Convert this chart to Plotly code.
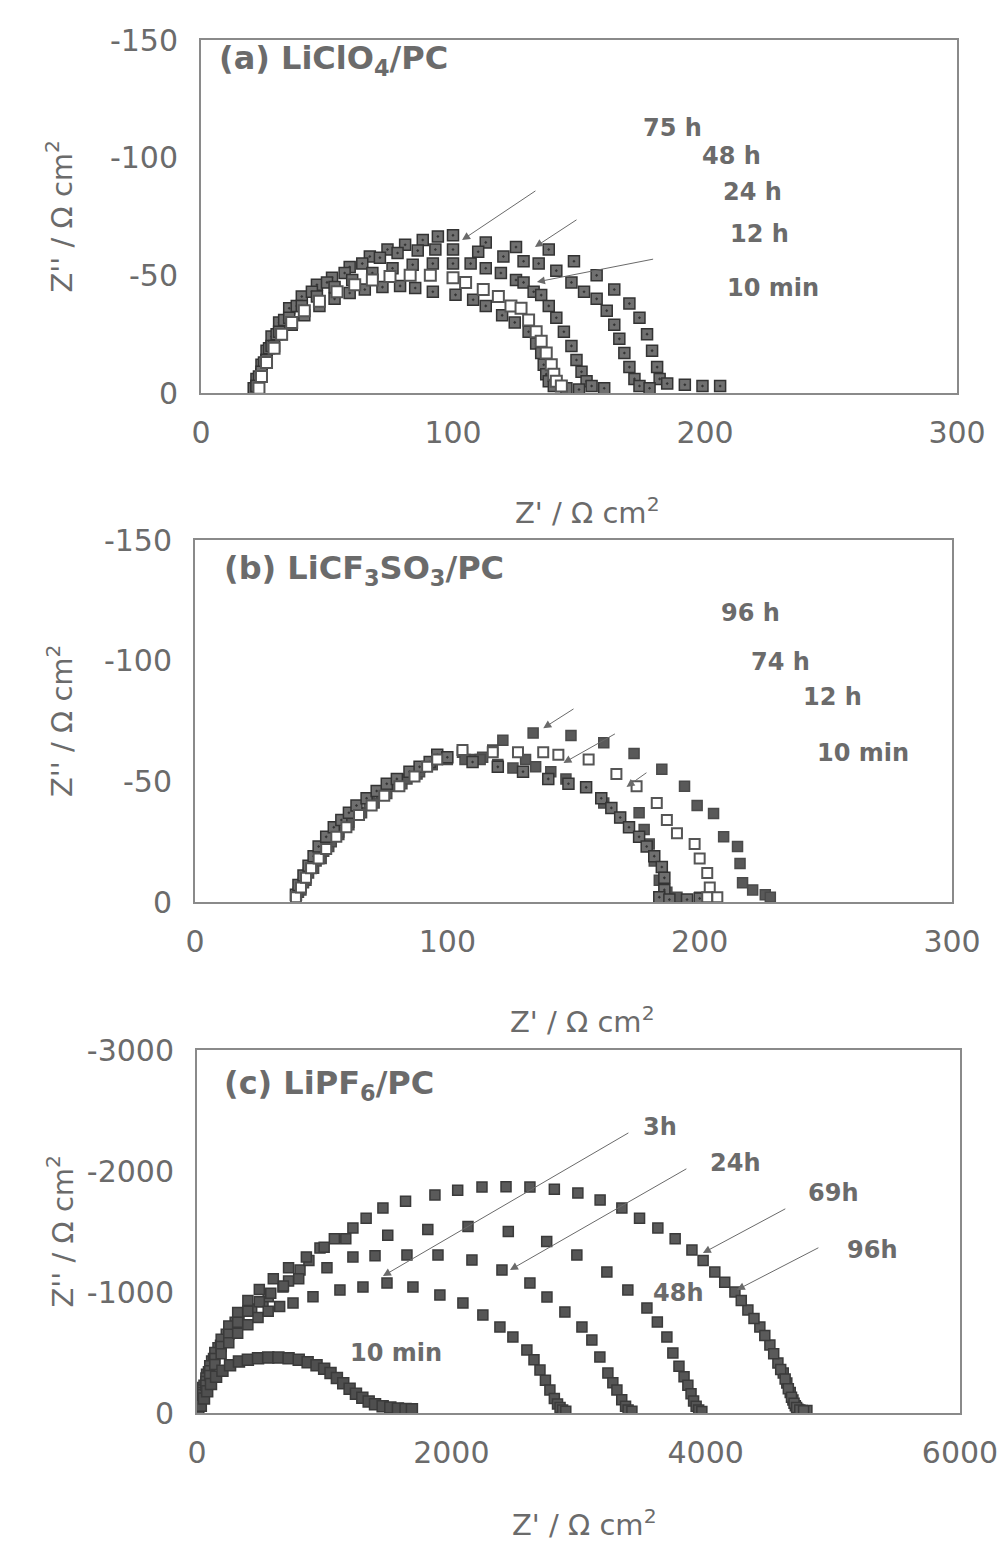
import plotly.graph_objects as go

W, H = 1004, 1547

# ---------------- Panel (a) LiClO4/PC ----------------
a_10min_x = [22, 24, 26, 29, 32, 36, 41, 47, 53, 59, 65, 72, 79, 85, 92, 101, 108, 113, 119.5, 124.5, 130, 133, 135, 136, 137, 138, 140, 145, 150]
a_10min_y = [-3, -9, -14, -20, -25, -29, -33, -37, -40, -42.5, -44, -45, -45.5, -44.6, -43, -41.7, -39.6, -37, -33, -30, -26, -21, -17, -12, -8, -5, -3, -2, -1.5]
a_12h_x = [23, 24, 26, 29, 32, 36, 41, 47, 54, 61, 68, 75, 83, 91, 100, 105, 112, 118, 123, 127, 130, 133, 135, 137, 139, 140, 141, 143]
a_12h_y = [-2, -7, -13, -19, -25, -30, -35, -39, -43, -46, -48, -49.5, -50, -50, -49, -47, -44, -41, -37, -36, -31, -26, -22, -17, -12, -8, -5, -3]
a_24h_x = [22, 24, 26, 28, 31, 35, 40, 46, 53, 60, 68, 76, 84, 92, 100, 107, 113, 119, 125, 128, 132, 135, 138, 141, 144, 147, 149, 151, 153, 155, 160]
a_24h_y = [-3, -8, -14, -20, -26, -32, -37, -41, -45, -48, -51, -53, -54.5, -55, -55, -55, -53, -51, -48, -47, -43, -41.6, -37, -32, -26, -20, -14, -9, -5, -3, -2]
a_48h_x = [21, 23, 25, 27, 30, 33, 38, 44, 50, 57, 64, 71, 78, 86, 93, 100, 110, 120, 128, 134, 141, 147, 152, 157, 161, 164, 166, 168, 170, 172, 174, 178]
a_48h_y = [-2, -7, -13, -19, -25, -31, -37, -43, -47, -51, -55, -57.5, -59.5, -60.5, -61, -61, -60, -58, -56, -55, -52, -47, -43, -40, -35, -29, -23, -17, -11, -6, -3, -2]
a_75h_x = [21, 22, 24, 26, 28, 31, 35, 40, 46, 52, 59, 67, 74, 81, 88, 94, 100, 113, 125, 138, 148, 157, 164, 170, 174, 177, 179, 181, 182, 185, 192, 199, 206]
a_75h_y = [-2, -6, -12, -18, -24, -30, -36, -41, -46, -49, -53.5, -58, -61, -63, -65, -66.5, -67, -64, -62, -61, -56, -50, -44, -38, -32, -25, -18, -11, -6, -4, -3.5, -3, -3]

# ---------------- Panel (b) LiCF3SO3/PC ----------------
b_10min_x = [40, 41, 43, 45, 47, 49, 52, 55, 58, 61, 64, 68, 72, 76, 80, 85, 89, 93, 96, 100, 110, 120, 130, 140, 148, 155, 161, 165, 168.5, 172, 176, 179, 182, 185, 186, 186, 184, 188, 195, 200]
b_10min_y = [-3, -7, -11, -15, -19, -23, -27, -31, -34, -37, -40, -43, -46, -49, -51, -54, -56, -58, -61, -60, -58, -56, -54, -51, -49, -47.5, -43, -39, -35, -31, -27, -23, -19, -14.5, -10, -5, -2, -1, -1, -1.5]
b_12h_x = [40, 42, 44, 46, 49, 52, 56, 60, 65, 70, 75, 81, 87, 92, 96, 106, 118, 128, 138, 144, 156, 167, 175, 183, 187, 191, 198, 200, 203, 204, 203, 207]
b_12h_y = [-2, -6, -10, -14, -18, -22, -27, -31, -36, -40, -44, -48, -52, -56, -59, -63, -62, -62, -62, -61, -59, -53, -48, -41, -34, -28.5, -24, -18, -12, -6, -2, -2]
b_74h_x = [41, 43, 45, 48, 51, 54, 57, 61, 65, 69, 74, 79, 84, 89, 94, 100, 107, 113, 120, 126, 131, 135, 141, 147, 155, 162, 168.5, 176, 178, 180, 182, 184, 187, 191, 200]
b_74h_y = [-4, -8, -12, -17, -21, -25, -29, -33, -37, -41, -45, -48, -51, -54, -57, -59, -59, -59, -57, -55.5, -59, -56, -54, -51, -47.5, -41, -35, -37, -30, -24, -17, -9, -4, -2, -2]
b_96h_x = [42, 44, 47, 50, 53, 57, 61, 66, 71, 76, 82, 88, 94, 99, 106, 110, 114, 118, 122, 134, 149, 162, 174, 185, 194, 199, 205.5, 209.5, 215, 216, 217, 221, 226, 228]
b_96h_y = [-5, -9, -14, -18, -23, -28, -32, -37, -41, -45, -49, -53, -57, -60, -62, -59, -60, -63, -67, -70, -69, -66, -61.5, -55, -48, -40, -36.7, -27, -23, -16, -8, -5, -3, -2]

# ---------------- Panel (c) LiPF6/PC ----------------
c_10min_x = [10, 30, 55, 80, 110, 150, 200, 260, 330, 400, 480, 560, 640, 720, 800, 870, 940, 1000, 1050, 1100, 1150, 1200, 1250, 1300, 1350, 1400, 1460, 1520, 1580, 1640, 1690]
c_10min_y = [-10, -60, -120, -180, -240, -300, -350, -395, -425, -440, -452, -458, -458, -452, -440, -420, -395, -365, -330, -290, -245, -200, -160, -125, -95, -72, -55, -45, -38, -33, -30]
c_3h_x = [10, 25, 45, 70, 100, 140, 190, 250, 320, 400, 480, 560, 650, 755, 912, 1124, 1305, 1494, 1698, 1910, 2091, 2248, 2382, 2484, 2594, 2650, 2697, 2740, 2775, 2810, 2835, 2855, 2875, 2900]
c_3h_y = [-20, -80, -150, -230, -310, -400, -490, -580, -660, -730, -790, -840, -880, -909, -960, -1017, -1041, -1074, -1041, -975, -909, -810, -711, -628, -521, -440, -355, -270, -190, -120, -75, -45, -25, -15]
c_24h_x = [10, 25, 45, 70, 100, 140, 190, 250, 320, 400, 490, 580, 680, 800, 1022, 1226, 1400, 1651, 1895, 2162, 2398, 2618, 2752, 2893, 3027, 3105, 3168, 3231, 3270, 3302, 3340, 3370, 3390, 3420]
c_24h_y = [-25, -90, -170, -260, -350, -450, -550, -650, -750, -840, -920, -990, -1050, -1110, -1200, -1290, -1300, -1306, -1306, -1264, -1182, -1074, -959, -835, -711, -603, -463, -330, -250, -190, -110, -55, -25, -15]
c_48h_x = [10, 25, 45, 70, 100, 140, 190, 250, 320, 400, 490, 600, 720, 860, 1000, 1170, 1500, 1815, 2131, 2448, 2750, 2987, 3223, 3388, 3538, 3620, 3695, 3742, 3790, 3830, 3860, 3885, 3905, 3925, 3945, 3970]
c_48h_y = [-30, -100, -190, -290, -390, -500, -610, -720, -830, -930, -1020, -1110, -1200, -1290, -1370, -1440, -1470, -1517, -1542, -1500, -1417, -1306, -1165, -1017, -868, -752, -628, -496, -386, -300, -230, -160, -100, -55, -25, -12]
c_69h_x = [10, 30, 55, 90, 130, 185, 250, 330, 430, 560, 720, 880, 1080, 1330, 1640, 2050, 2430, 2810, 3170, 3480, 3760, 3980, 4150, 4280, 4380, 4465, 4535, 4590, 4625, 4650, 4675, 4695, 4715, 4740, 4770]
c_69h_y = [-38, -130, -230, -340, -450, -560, -670, -770, -860, -960, -1090, -1260, -1440, -1610, -1750, -1840, -1870, -1850, -1760, -1610, -1440, -1260, -1080, -930, -780, -640, -490, -360, -280, -200, -130, -80, -45, -25, -18]
c_96h_x = [10, 25, 45, 75, 115, 165, 230, 300, 400, 519, 676, 810, 967, 1226, 1462, 1871, 2241, 2618, 2995, 3341, 3624, 3892, 4072, 4230, 4332, 4426, 4505, 4568, 4610, 4638, 4665, 4686, 4705, 4725, 4760, 4796]
c_96h_y = [-40, -120, -210, -320, -430, -540, -650, -750, -840, -920, -1041, -1182, -1364, -1529, -1694, -1802, -1868, -1868, -1818, -1694, -1529, -1347, -1165, -1000, -851, -711, -562, -413, -330, -248, -170, -107, -60, -30, -20, -20]

# tick labels
a_xticks = [0, 100, 200, 300]
a_yticks = [0, -50, -100, -150]
b_xticks = [0, 100, 200, 300]
b_yticks = [0, -50, -100, -150]
c_xticks = [0, 2000, 4000, 6000]
c_yticks = [0, -1000, -2000, -3000]

# panel boxes in pixels (left, right, top, bottom)
boxes = {
    "a": (201, 957, 40, 393),
    "b": (195, 952, 540, 902),
    "c": (197, 960, 1050, 1413),
}

FONT = "DejaVu Sans"
TXT = "#6b6b6b"
fig = go.Figure()

FILL = "#6a6a6a"
EDGE = "#2e2e2e"


def add(xs, ys, n, name, sym="square", fill=FILL, edge=EDGE, size=11, lw=1.5):
    fig.add_trace(go.Scatter(
        x=xs, y=ys, mode="markers", name=name, showlegend=False,
        xaxis="x" if n == 1 else f"x{n}", yaxis="y" if n == 1 else f"y{n}",
        marker=dict(symbol=sym, size=size, color=fill, line=dict(color=edge, width=lw)),
    ))


# panel a
add(a_75h_x, a_75h_y, 1, "75 h", sym="square-dot", fill="#707070", edge="#333333")
add(a_48h_x, a_48h_y, 1, "48 h", sym="square-dot", fill="#707070", edge="#333333")
add(a_24h_x, a_24h_y, 1, "24 h", sym="square-dot", fill="#707070", edge="#333333")
add(a_10min_x, a_10min_y, 1, "10 min", sym="square-dot", fill="#707070", edge="#333333")
add(a_12h_x, a_12h_y, 1, "12 h", fill="white", edge="#555555", lw=2)

# panel b
add(b_96h_x, b_96h_y, 2, "96 h", fill="#595959", edge="#4a4a4a", size=10)
add(b_74h_x, b_74h_y, 2, "74 h", fill="#595959", edge="#4a4a4a", size=10)
add(b_10min_x, b_10min_y, 2, "10 min", sym="square-dot", fill="#6f6f6f", edge="#333333", size=11)
add(b_12h_x, b_12h_y, 2, "12 h", fill="white", edge="#555555", size=10, lw=2)

# panel c
add(c_96h_x, c_96h_y, 3, "96h", fill="#5a5a5a", edge="#3a3a3a", size=10)
add(c_69h_x, c_69h_y, 3, "69h", fill="#5a5a5a", edge="#3a3a3a", size=10)
add(c_48h_x, c_48h_y, 3, "48h", fill="#555555", edge="#3a3a3a", size=10)
add(c_24h_x, c_24h_y, 3, "24h", fill="#555555", edge="#3a3a3a", size=10)
add(c_3h_x, c_3h_y, 3, "3h", fill="#555555", edge="#3a3a3a", size=10)
add(c_10min_x, c_10min_y, 3, "10 min", fill="#4f4f4f", edge="#3a3a3a", size=11)


def axis(domain, anchor, rng, tickvals, is_x):
    d = dict(
        domain=domain, anchor=anchor, range=rng, automargin=False,
        tickvals=tickvals, ticktext=[str(v) for v in tickvals],
        showgrid=False, zeroline=False, showline=True, mirror=True,
        linecolor="#8a8a8a", linewidth=2, ticks="",
        tickfont=dict(family=FONT, size=30, color=TXT),
    )
    d["ticklabelstandoff"] = 12 if is_x else 15
    return d


layout = dict(
    width=W, height=H, margin=dict(l=0, r=0, t=0, b=0, pad=0, autoexpand=False),
    paper_bgcolor="white", plot_bgcolor="white",
    showlegend=False,
)
specs = [
    ("a", "", a_xticks, a_yticks, [0, 300], [0, -150]),
    ("b", "2", b_xticks, b_yticks, [0, 300], [0, -150]),
    ("c", "3", c_xticks, c_yticks, [0, 6000], [0, -3000]),
]
for key, sfx, xt, yt, xr, yr in specs:
    l, r, t, b = boxes[key]
    layout["xaxis" + sfx] = axis([l / W, r / W], "y" + sfx, xr, xt, True)
    layout["yaxis" + sfx] = axis([1 - b / H, 1 - t / H], "x" + sfx, yr, yt, False)

fig.update_layout(**layout)

ann = []
TITLE_FONT = dict(family=FONT, size=32, color=TXT)
LAB_FONT = dict(family=FONT, size=24, color=TXT)
AX_FONT = dict(family=FONT, size=29, color=TXT)

# panel titles
titles = [
    ("<b>(a) LiClO<sub>4</sub>/PC</b>", 217, 60),
    ("<b>(b) LiCF<sub>3</sub>SO<sub>3</sub>/PC</b>", 222, 570),
    ("<b>(c) LiPF<sub>6</sub>/PC</b>", 222, 1085),
]
for txt, px, py in titles:
    ann.append(dict(text=txt, xref="paper", yref="paper", x=px / W, y=1 - py / H,
                    xanchor="left", yanchor="middle", showarrow=False, font=TITLE_FONT))

# axis titles
for key, xc, off in (("a", 587, 118), ("b", 582, 118), ("c", 584, 110)):
    l, r, t, b = boxes[key]
    ann.append(dict(text="Z' / Ω cm<sup>2</sup>", xref="paper", yref="paper",
                    x=xc / W, y=1 - (b + off) / H, xanchor="center", yanchor="middle",
                    showarrow=False, font=AX_FONT))
    ann.append(dict(text="Z'' / Ω cm<sup>2</sup>", xref="paper", yref="paper",
                    x=60 / W, y=1 - ((t + b) / 2) / H, xanchor="center", yanchor="middle",
                    textangle=-90, showarrow=False, font=AX_FONT))

# series labels (data coords)
labels = [
    ("", "75 h", 187, -112.6), ("", "48 h", 210.7, -100.7), ("", "24 h", 219, -85.4),
    ("", "12 h", 221.8, -67.4), ("", "10 min", 227, -44.6),
    ("2", "96 h", 220, -119.8), ("2", "74 h", 231.9, -99.5), ("2", "12 h", 252.5, -85),
    ("2", "10 min", 264.8, -61.8),
    ("3", "3h", 3640, -2364), ("3", "24h", 4230, -2066), ("3", "69h", 5000, -1818),
    ("3", "96h", 5311, -1347), ("3", "48h", 3781, -992), ("3", "10 min", 1564, -496),
]
for sfx, txt, x, y in labels:
    ann.append(dict(text="<b>" + txt.replace(" ", "&nbsp;") + "</b>", xref="x" + sfx, yref="y" + sfx,
                    x=x, y=y, xanchor="center", yanchor="middle", showarrow=False, font=LAB_FONT))

# arrows: (axis suffix, tip x, tip y, tail x, tail y)
arrows = [
    ("", 103.6, -65, 133.3, -86.3), ("", 132.5, -62, 149.6, -74), ("", 133.3, -47.2, 180, -57),
    ("2", 138, -72, 150.6, -80.4), ("2", 146, -57.6, 167, -70), ("2", 171, -47.7, 179.5, -54),
    ("3", 1462, -1132, 3404, -2322), ("3", 2461, -1182, 3860, -2025),
    ("3", 3978, -1322, 4638, -1694), ("3", 4245, -1017, 4898, -1372),
]
for sfx, x, y, axv, ayv in arrows:
    ann.append(dict(text="", xref="x" + sfx, yref="y" + sfx, x=x, y=y,
                    axref="x" + sfx, ayref="y" + sfx, ax=axv, ay=ayv,
                    showarrow=True, arrowhead=2, arrowsize=1.6, arrowwidth=1,
                    arrowcolor="#6a6a6a"))

fig.update_layout(annotations=ann)
fig.write_html("out.html")
